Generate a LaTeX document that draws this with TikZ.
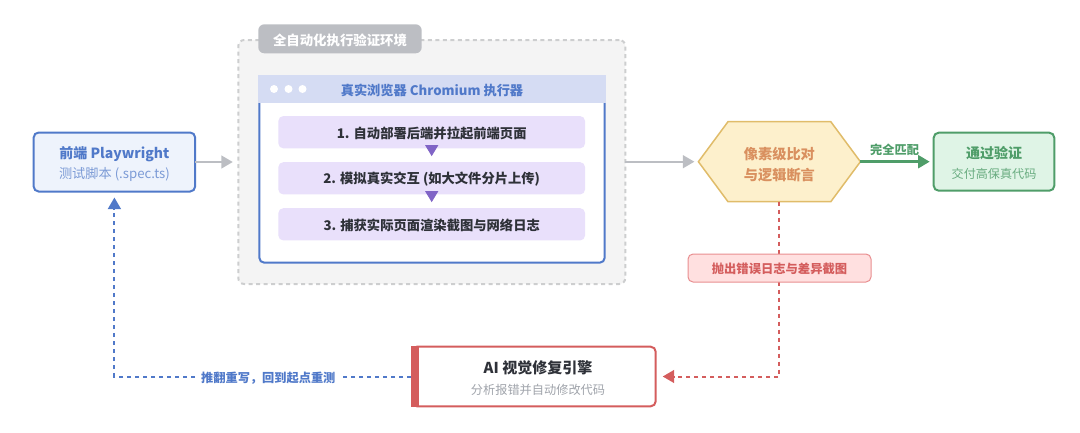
\documentclass[tikz,border=0pt]{standalone}
\usepackage{fontspec}
\setmainfont{Noto Sans CJK SC}
\usetikzlibrary{arrows.meta,shapes.symbols}

\definecolor{cblue}{HTML}{5079C9}
\definecolor{cbluefill}{HTML}{EEF3FC}
\definecolor{cgray}{HTML}{BCBEC3}
\definecolor{cdash}{HTML}{CDCECF}
\definecolor{cenv}{HTML}{F4F4F4}
\definecolor{chead}{HTML}{D5DCF3}
\definecolor{cstep}{HTML}{E9E0FB}
\definecolor{cpurple}{HTML}{8064C6}
\definecolor{chex}{HTML}{FDF0CC}
\definecolor{chexline}{HTML}{E0BC6A}
\definecolor{chextext}{HTML}{D9905F}
\definecolor{cgreen}{HTML}{4F9D69}
\definecolor{cgreenfill}{HTML}{DFF4E6}
\definecolor{cred}{HTML}{D45D5D}
\definecolor{credfill}{HTML}{FFE0E0}
\definecolor{credline}{HTML}{E88E90}
\definecolor{cdark}{HTML}{2E3138}
\definecolor{csub}{HTML}{A0A4AB}

\newcommand{\pad}[1]{\rule{0pt}{#1}}

\begin{document}
\begin{tikzpicture}
	[
		x=1pt, y=-1pt,
		>={Triangle[length=11.5pt,width=12.8pt]},
		every node/.style={outer sep=0pt, inner sep=0pt, align=center},
		box/.style={draw, rounded corners=5pt, line width=2pt, font=\fontsize{14}{20.5}\selectfont},
		stepbox/.style={fill=cstep, rounded corners=5pt, minimum width=306.7pt, minimum height=32.3pt, text=cdark, font=\fontsize{13.3}{16}\selectfont\bfseries},
		dot/.style={circle, fill=white, minimum size=8pt},
		grayline/.style={->, cgray, line width=2pt},
		flowline/.style={->, cpurple, line width=1pt},
		sublabel/.style={font=\fontsize{12.2}{15}\selectfont\bfseries}
	]

	\useasboundingbox (0,0) rectangle (1080,432);

	% left box
	\node
	[box, draw=cblue, fill=cbluefill, minimum width=161.5pt, minimum height=59pt, text=cblue]
		(front) at (114.4,162)
		{\pad{16pt}{\bfseries 前端 Playwright}\\{\fontsize{13.2}{18}\selectfont\color{cblue!75} 测试脚本 (.spec.ts)}};

	% environment with browser
	\node
	[draw=cdash, fill=cenv, dash pattern=on 4pt off 3.5pt, line width=2pt, rounded corners=6pt, minimum width=387pt, minimum height=244pt]
		(env) at (431.8,162) {};

	\node
	[fill=cgray, rounded corners=6pt, minimum width=163.4pt, minimum height=29pt, text=white, font=\fontsize{13.4}{16}\selectfont\bfseries]
		(envtag) at (340,38.8)
		{\pad{14.5pt}全自动化执行验证环境};

	\node
	[box, draw=cblue, fill=white, minimum width=345.4pt, minimum height=172.7pt]
		(browser) at (432,176.35) {};

	\node
	[fill=chead, minimum width=347.4pt, minimum height=28.3pt, text=cblue, font=\fontsize{13.2}{16}\selectfont\bfseries]
		(header) at (432,89.2)
		{\pad{14pt}真实浏览器 Chromium 执行器};

	\node [dot] (dot0) at (274,89) {};
	\node [dot] (dot1) at (288.5,89) {};
	\node [dot] (dot2) at (302.5,89) {};

	\node [stepbox] (step0) at (431.7,132.2) {\pad{14pt}1. 自动部署后端并拉起前端页面};
	\node [stepbox] (step1) at (431.7,178.3) {\pad{14pt}2. 模拟真实交互 (如大文件分片上传)};
	\node [stepbox] (step2) at (431.7,224.3) {\pad{14pt}3. 捕获实际页面渲染截图与网络日志};

	% decision
	\node
	[signal, signal to=east and west, signal pointer angle=107, draw=chexline, fill=chex, line width=1.5pt, minimum width=162pt, minimum height=80pt, text=chextext, font=\fontsize{14.2}{21}\selectfont\bfseries]
		(check) at (779.4,161.7)
		{\pad{17.5pt}像素级比对\\与逻辑断言};

	\node
	[box, draw=cgreen, fill=cgreenfill, minimum width=120.6pt, minimum height=58pt, text=cgreen]
		(pass) at (994,161.7)
		{\pad{15pt}{\bfseries 通过验证}\\{\fontsize{12.1}{18}\selectfont\color{cgreen!85} 交付高保真代码}};

	% repair box
	\node
	[box, draw=cred, fill=white, minimum width=243.7pt, minimum height=59.6pt]
		(repair) at (533.85,376.5) {};

	\node
	[fill=cred, minimum width=8.3pt, minimum height=61.6pt]
		(repairbar) at (415.15,376.5) {};

	\node
	[font=\fontsize{15}{20.5}\selectfont]
		(repairtext) at (538,378.3)
		{{\bfseries\color{cdark} AI 视觉修复引擎}\\{\fontsize{12.2}{18}\selectfont\color{csub} 分析报错并自动修改代码}};

	% connectors
	\path
	[grayline]
		(front.east) edge[shorten >=5.5pt] (front.east -| env.west)
		(env.east |- check.west) edge[shorten >=4pt] (check.west);

	\path
	[flowline, >={Triangle[length=11pt,width=13pt]}]
		(step0.south) edge[shorten <=-3pt, shorten >=6pt] (step1.north)
		(step1.south) edge[shorten <=-3pt, shorten >=6pt] (step2.north);

	\draw
	[->, cgreen, line width=2.5pt, shorten >=4pt]
		(check.east) -- node[above=6pt, xshift=-2.5pt, sublabel, text=cgreen] (matchlabel) {完全匹配} (pass.west);

	\draw
	[->, cred, line width=2pt, dash pattern=on 4.5pt off 3.5pt, shorten >=7pt]
		(check.south) |- (repair.east);

	\draw
	[->, cblue, line width=2pt, dash pattern=on 4.5pt off 3.5pt, shorten >=6pt]
		(repairbar.west) -| (front.south);

	% labels on lines
	\node
	[draw=credline, fill=credfill, line width=1pt, rounded corners=5pt, minimum width=183pt, minimum height=28pt, text=cred, font=\fontsize{12.3}{16}\selectfont\bfseries]
		(errlabel) at (779.5,268)
		{\pad{13pt}抛出错误日志与差异截图};

	\node
	[sublabel, fill=white, minimum width=143pt, minimum height=14pt, text=cblue]
		(retrylabel) at (268.3,377)
		{\pad{12.5pt}推翻重写，回到起点重测};

\end{tikzpicture}
\end{document}
